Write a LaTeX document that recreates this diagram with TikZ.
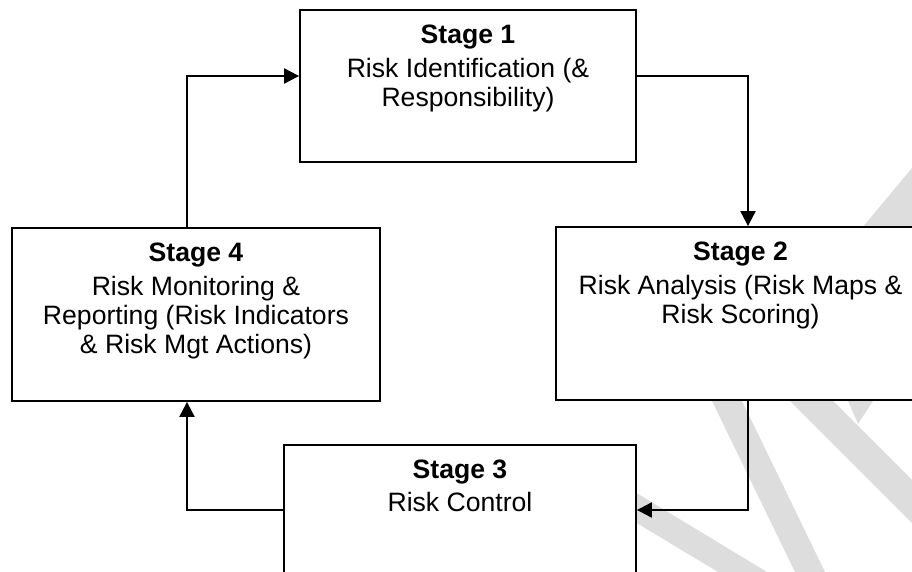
\documentclass[tikz,border=0pt]{standalone}
\usepackage{fontspec}
\setmainfont{Liberation Sans}
\usetikzlibrary{arrows.meta,calc}
\definecolor{wm}{RGB}{221,221,221}
\begin{document}
\begin{tikzpicture}[x=1pt,y=-1pt,
  box/.style={draw=black, line width=1.8pt, fill=white, inner sep=0pt},
  txt/.style={align=center, inner sep=0pt, anchor=north, font=\fontsize{26.6}{29}\selectfont},
  conn/.style={draw=black, line width=2pt, -{Triangle[length=15pt,width=15pt]}}]
\useasboundingbox (0,0) rectangle (912,572);
\clip (0,0) rectangle (912,572);
% watermark
\fill[wm] (862,228) -- (912,168) -- (912,228) -- cycle;
\fill[wm] (712,401) -- (742,401) -- (825,572) -- (795,572) -- cycle;
\fill[wm] (620,483) -- (767,572) -- (718,572) -- (620,513) -- cycle;
\fill[wm] (790,401) -- (833,401) -- (912,480) -- (912,523) -- cycle;
\fill[wm] (848,401) -- (873,401) -- (858,424) -- cycle;
% boxes
\node[box, minimum width=336, minimum height=152] (s1) at (468,86) {};
\node[box, minimum width=369, minimum height=173] (s2) at (740.5,313.5) {};
\node[box, minimum width=352, minimum height=173] (s3) at (460,531.5) {};
\node[box, minimum width=368, minimum height=173] (s4) at (196,314.5) {};
% texts
\node[txt] (t1) at ($(s1.north)+(0,15.6)$) {\textbf{Stage 1}\\[5pt]Risk Identification (\&\\Responsibility)};
\node[txt] (t2) at ($(s2.north)+(0,15.6)$) {\textbf{Stage 2}\\[5pt]Risk Analysis (Risk Maps \&\\Risk Scoring)};
\node[txt] (t3) at ($(s3.north)+(0,15.6)$) {\textbf{Stage 3}\\[4pt]Risk Control};
\node[txt] (t4) at ($(s4.north)+(0,15.6)$) {\textbf{Stage 4}\\[5pt]Risk Monitoring \&\\Reporting (Risk Indicators\\\& Risk Mgt Actions)};
% connectors
\coordinate (c1) at (187,76);
\coordinate (c2) at (748,76);
\coordinate (c3) at (748,510);
\coordinate (c4) at (187,510);
\draw[conn] (s4.north -| c1) -- (c1) -- (s1.west |- c1);
\draw[conn] (s1.east |- c2) -- (c2) -- (c2 |- s2.north);
\draw[conn] (c3 |- s2.south) -- (c3) -- (s3.east |- c3);
\draw[conn] (s3.west |- c4) -- (c4) -- (c4 |- s4.south);
\end{tikzpicture}
\end{document}
